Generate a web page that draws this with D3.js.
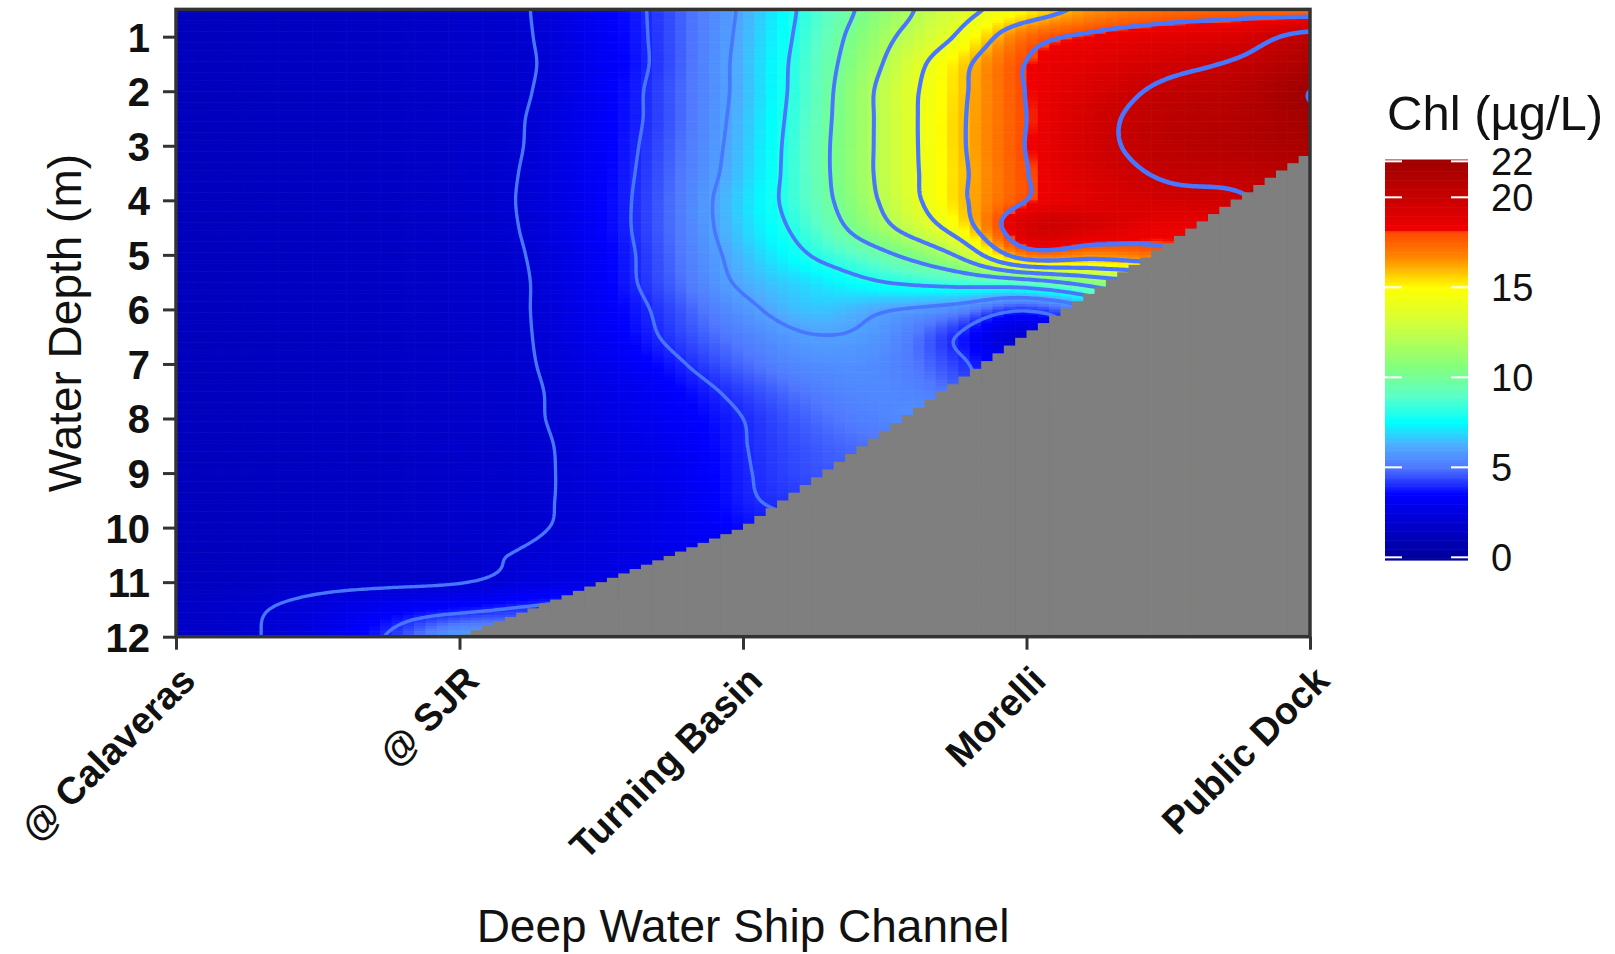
<!DOCTYPE html>
<html>
<head>
<meta charset="utf-8">
<script src="https://cdn.jsdelivr.net/npm/d3@7"></script>
<style>
  html, body { margin: 0; padding: 0; background: #ffffff; }
  svg { display: block; font-family: "Liberation Sans", Arial, sans-serif; }
</style>
</head>
<body>
<svg id="chart" width="1615" height="954"></svg>
<script>
// Stations along the Deep Water Ship Channel (x positions 0..4)
const stations = ["@ Calaveras", "@ SJR", "Turning Basin", "Morelli", "Public Dock"];
// Channel bed depth (m) at each station
const bedDepth = [12.5, 12.0, 10.0, 6.45, 3.12];

// Section sample positions: distance (station units) and depth (m)
const gridX = [0, 0.25, 0.5, 0.75, 1, 1.25, 1.5, 1.75, 2, 2.25, 2.5, 2.75, 3, 3.25, 3.5, 3.75, 4];
const gridDepth = [0.5, 1, 1.5, 2, 2.5, 3, 3.5, 4, 4.5, 5, 5.5, 6, 6.5, 7, 7.5, 8, 8.5, 9, 9.5, 10, 10.5, 11, 11.5, 12];

// Chlorophyll (µg/L): one row per depth, one column per gridX position; null = under the bed
const chl = [
  [1.2, 1.3, 1.4, 1.5, 1.7, 2.0, 3.2, 4.5, 6.2, 8.6, 11.0, 13.3, 15.0, 16.6, 17.3, 17.5, 17.3],
  [1.2, 1.3, 1.4, 1.5, 1.7, 1.97, 3.15, 4.5, 6.3, 8.8, 11.6, 14.1, 17.3, 18.3, 18.8, 19.2, 20.5],
  [1.2, 1.3, 1.4, 1.5, 1.7, 1.93, 3.1, 4.5, 6.4, 9.0, 12.1, 15.3, 18.05, 18.9, 19.6, 20.2, 21.3],
  [1.2, 1.3, 1.4, 1.5, 1.7, 1.98, 3.2, 4.6, 6.4, 9.1, 12.5, 15.5, 18.05, 19.3, 20.3, 20.8, 22.0],
  [1.2, 1.3, 1.4, 1.5, 1.7, 2.05, 3.25, 4.6, 6.5, 9.2, 12.5, 15.6, 18.0, 19.6, 20.6, 21.0, 21.8],
  [1.2, 1.3, 1.4, 1.5, 1.7, 2.07, 3.3, 4.7, 6.6, 9.3, 12.5, 15.6, 18.05, 19.6, 20.6, 21.0, 21.5],
  [1.2, 1.3, 1.4, 1.5, 1.7, 2.12, 3.35, 4.8, 6.7, 9.3, 12.5, 15.5, 17.95, 19.3, 20.2, 20.4, 21.0],
  [1.2, 1.3, 1.4, 1.5, 1.7, 2.15, 3.4, 4.9, 6.9, 9.2, 12.3, 15.5, 18.0, 19.0, 19.5, 19.8, null],
  [1.2, 1.3, 1.4, 1.5, 1.7, 2.12, 3.4, 4.9, 6.8, 8.8, 11.6, 14.7, 19.3, 19.2, 18.4, 19.0, null],
  [1.2, 1.3, 1.4, 1.5, 1.7, 2.05, 3.3, 4.8, 6.5, 8.1, 9.7, 12.1, 17.0, 16.7, 17.5, null, null],
  [1.2, 1.3, 1.4, 1.5, 1.7, 2.0, 3.3, 4.7, 6.2, 7.1, 8.0, 8.6, 9.3, 11.0, 13.0, null, null],
  [1.2, 1.3, 1.4, 1.5, 1.7, 2.0, 3.15, 4.4, 5.7, 6.6, 6.1, 5.5, 4.2, 6.5, null, null, null],
  [1.2, 1.3, 1.4, 1.5, 1.7, 1.98, 3.05, 4.2, 5.2, 5.95, 5.6, 4.0, 2.2, null, null, null, null],
  [1.2, 1.3, 1.4, 1.5, 1.7, 1.95, 2.8, 3.8, 4.8, 5.5, 5.4, 4.3, 3.0, null, null, null, null],
  [1.2, 1.3, 1.4, 1.5, 1.7, 1.9, 2.6, 3.4, 4.3, 5.1, 5.4, 4.8, null, null, null, null, null],
  [1.2, 1.3, 1.4, 1.5, 1.7, 1.9, 2.5, 3.2, 4.0, 4.8, 5.3, 5.5, null, null, null, null, null],
  [1.2, 1.3, 1.4, 1.5, 1.7, 1.85, 2.4, 3.0, 3.95, 4.6, 5.0, null, null, null, null, null, null],
  [1.2, 1.3, 1.4, 1.5, 1.7, 1.85, 2.35, 2.9, 3.9, 4.5, 4.8, null, null, null, null, null, null],
  [1.2, 1.3, 1.4, 1.5, 1.75, 1.88, 2.3, 2.8, 3.85, 4.3, null, null, null, null, null, null, null],
  [1.2, 1.3, 1.4, 1.55, 1.75, 1.92, 2.3, 2.9, 3.6, 4.0, null, null, null, null, null, null, null],
  [1.2, 1.3, 1.45, 1.6, 1.78, 2.1, 2.4, 2.8, 3.3, null, null, null, null, null, null, null, null],
  [1.3, 1.5, 1.7, 1.78, 1.95, 2.45, 2.7, 3.0, null, null, null, null, null, null, null, null, null],
  [1.5, 1.85, 2.4, 3.2, 3.7, 4.2, 4.5, null, null, null, null, null, null, null, null, null, null],
  [1.6, 1.9, 2.6, 4.1, 5.9, 5.5, null, null, null, null, null, null, null, null, null, null, null]
];

const depthTicks = [1, 2, 3, 4, 5, 6, 7, 8, 9, 10, 11, 12];
const legendTicks = [0, 5, 10, 15, 20, 22];
const contourLevels = [2, 4, 6, 8, 10, 12, 14, 16, 18, 20, 22];

// Colour ramp (value -> colour)
const colorStops = [0, 2, 3.5, 5, 6.2, 7.5, 9, 10.5, 13, 15, 16.6, 18.1, 18.2, 20, 22];
const colorHex = ["#00009C", "#0000D2", "#0000FF", "#5078FF", "#50AAFF", "#00FFFF", "#5CFFC8",
                  "#80FF80", "#D2FF3C", "#FFFF00", "#FF8C00", "#FF4600", "#F00000", "#C80000", "#A00000"];

// ---------------------------------------------------------------
const svg = d3.select("#chart");
const x = d3.scaleLinear().domain([0, 4]).range([176, 1310]);
const y = d3.scaleLinear().domain([0.5, 12]).range([9.4, 636.7]);
const color = d3.scaleLinear().domain(colorStops).range(colorHex)
  .interpolate(d3.interpolateRgb).clamp(true);
const bedAt = d3.scaleLinear().domain([0, 1, 2, 3, 4]).range(bedDepth);

// Extend each profile downward under the bed so the surface can be sampled smoothly
const nx = gridX.length, ny = gridDepth.length;
const field = chl.map(r => r.slice());
for (let j = 0; j < nx; j++)
  for (let i = 1; i < ny; i++)
    if (field[i][j] == null) field[i][j] = field[i - 1][j];

const colIndex = d3.scaleLinear().domain(gridX).range(d3.range(nx)).clamp(true);
const rowIndex = d3.scaleLinear().domain(gridDepth).range(d3.range(ny)).clamp(true);

// Bicubic (Catmull-Rom) surface through the samples
function catmull(p0, p1, p2, p3, t) {
  return 0.5 * (2 * p1 + (-p0 + p2) * t + (2 * p0 - 5 * p1 + 4 * p2 - p3) * t * t +
                (-p0 + 3 * p1 - 3 * p2 + p3) * t * t * t);
}
function sample(s, d) {
  const fx = colIndex(s), fy = rowIndex(d);
  const ix = Math.min(Math.floor(fx), nx - 2), iy = Math.min(Math.floor(fy), ny - 2);
  const tx = fx - ix, ty = fy - iy;
  const g = (i, j) => field[Math.max(0, Math.min(ny - 1, i))][Math.max(0, Math.min(nx - 1, j))];
  const r = [];
  for (let m = -1; m <= 2; m++)
    r.push(catmull(g(iy + m, ix - 1), g(iy + m, ix), g(iy + m, ix + 1), g(iy + m, ix + 2), tx));
  return catmull(r[0], r[1], r[2], r[3], ty);
}

const defs = svg.append("defs");
defs.append("clipPath").attr("id", "plotClip")
  .append("rect").attr("x", x(0)).attr("y", y(0.5))
  .attr("width", x(4) - x(0)).attr("height", y(12) - y(0.5));

const plot = svg.append("g").attr("clip-path", "url(#plotClip)");

// Raster of the section
const ds = 0.04, dd = 0.05;
const cells = [];
for (let c = 0; c < 100; c++) {
  const s0 = c * ds;
  for (let r = 0; r < 230; r++) {
    const d0 = 0.5 + r * dd;
    cells.push({ s0, d0, v: sample(s0 + ds / 2, d0 + dd / 2) });
  }
}
plot.append("g").selectAll("rect").data(cells).join("rect")
  .attr("x", d => x(d.s0))
  .attr("y", d => y(d.d0))
  .attr("width", d => x(d.s0 + ds) - x(d.s0) + 0.6)
  .attr("height", d => y(d.d0 + dd) - y(d.d0) + 0.6)
  .attr("fill", d => color(d.v));

// Contour lines
const cs0 = -0.05, cds = 0.01, cnx = 411;
const cd0 = 0.4, cdd = 0.025, cny = 469;
const vals = new Float64Array(cnx * cny);
for (let j = 0; j < cny; j++)
  for (let i = 0; i < cnx; i++)
    vals[j * cnx + i] = sample(cs0 + i * cds, cd0 + j * cdd);
const contours = d3.contours().size([cnx, cny]).thresholds(contourLevels)(vals);
const proj = d3.geoTransform({
  point(px, py) { this.stream.point(x(cs0 + (px - 0.5) * cds), y(cd0 + (py - 0.5) * cdd)); }
});
const cpath = d3.geoPath(proj);
plot.append("g").selectAll("path").data(contours).join("path")
  .attr("d", cpath)
  .attr("fill", "none")
  .attr("stroke", "#4876FF")
  .attr("stroke-width", d => 3.2 + 0.07 * d.value)
  .attr("stroke-linejoin", "round");

// Channel bed (no data below it)
const bedCols = d3.range(100).map(c => ({ s0: c * ds, bed: bedAt(c * ds + ds / 2) }))
  .filter(d => d.bed < 12);
plot.append("g").selectAll("rect").data(bedCols).join("rect")
  .attr("x", d => x(d.s0))
  .attr("y", d => y(d.bed))
  .attr("width", d => x(d.s0 + ds) - x(d.s0) + 0.6)
  .attr("height", d => y(12) - y(d.bed) + 2)
  .attr("fill", "#7F7F7F");

// Panel frame
svg.append("rect")
  .attr("x", x(0)).attr("y", y(0.5))
  .attr("width", x(4) - x(0)).attr("height", y(12) - y(0.5))
  .attr("fill", "none").attr("stroke", "#333333").attr("stroke-width", 3.5);

// Depth axis
const yAxis = svg.append("g").attr("transform", `translate(${x(0)},0)`)
  .call(d3.axisLeft(y).tickValues(depthTicks).tickSize(13).tickPadding(13));
yAxis.select(".domain").remove();
yAxis.selectAll(".tick line").attr("stroke", "#333333").attr("stroke-width", 3);
yAxis.selectAll(".tick text")
  .attr("font-family", "Liberation Sans, Arial, sans-serif")
  .attr("font-size", 40).attr("font-weight", "bold").attr("fill", "#111111")
  .attr("dy", "0.36em");

// Station axis
const xAxis = svg.append("g").attr("transform", `translate(0,${y(12)})`)
  .call(d3.axisBottom(x).tickValues([0, 1, 2, 3, 4]).tickFormat(i => stations[i]).tickSize(13));
xAxis.select(".domain").remove();
xAxis.selectAll(".tick line").attr("stroke", "#333333").attr("stroke-width", 3);
xAxis.selectAll(".tick text")
  .attr("font-family", "Liberation Sans, Arial, sans-serif")
  .attr("font-size", 38).attr("font-weight", "bold").attr("fill", "#111111")
  .attr("text-anchor", "end")
  .attr("y", 0).attr("dy", 0)
  .attr("transform", "translate(21,46) rotate(-45)");

// Axis titles
svg.append("text")
  .attr("x", x(2)).attr("y", 942)
  .attr("text-anchor", "middle").attr("font-size", 46).attr("fill", "#111111")
  .text("Deep Water Ship Channel");
svg.append("text")
  .attr("transform", `translate(81,${(y(0.5) + y(12)) / 2}) rotate(-90)`)
  .attr("text-anchor", "middle").attr("font-size", 46).attr("fill", "#111111")
  .text("Water Depth (m)");

// Colour bar legend
const ly = d3.scaleLinear().domain([0, 22]).range([557.3, 161.3]);
const legend = svg.append("g");
legend.append("text")
  .attr("x", 1387).attr("y", 130)
  .attr("font-size", 49).attr("fill", "#111111")
  .text("Chl (µg/L)");
const barX0 = 1385, barX1 = 1468;
const slices = d3.range(-0.15, 22.1, 0.1);
legend.append("g").selectAll("rect").data(slices).join("rect")
  .attr("x", barX0).attr("width", barX1 - barX0)
  .attr("y", d => ly(Math.min(d + 0.1, 22.1)))
  .attr("height", d => ly(d) - ly(Math.min(d + 0.1, 22.1)) + 0.6)
  .attr("fill", d => color(d + 0.05));
legend.append("g").selectAll("line").data(legendTicks.flatMap(v => [
    { v, a: barX0, b: barX0 + 17 }, { v, a: barX1 - 17, b: barX1 }]))
  .join("line")
  .attr("x1", d => d.a).attr("x2", d => d.b)
  .attr("y1", d => ly(d.v)).attr("y2", d => ly(d.v))
  .attr("stroke", "#ffffff").attr("stroke-width", 2);
legend.append("g").selectAll("text").data(legendTicks).join("text")
  .attr("x", 1491).attr("y", d => ly(d)).attr("dy", "0.36em")
  .attr("font-size", 38).attr("fill", "#111111")
  .text(d => d);
</script>
</body>
</html>
